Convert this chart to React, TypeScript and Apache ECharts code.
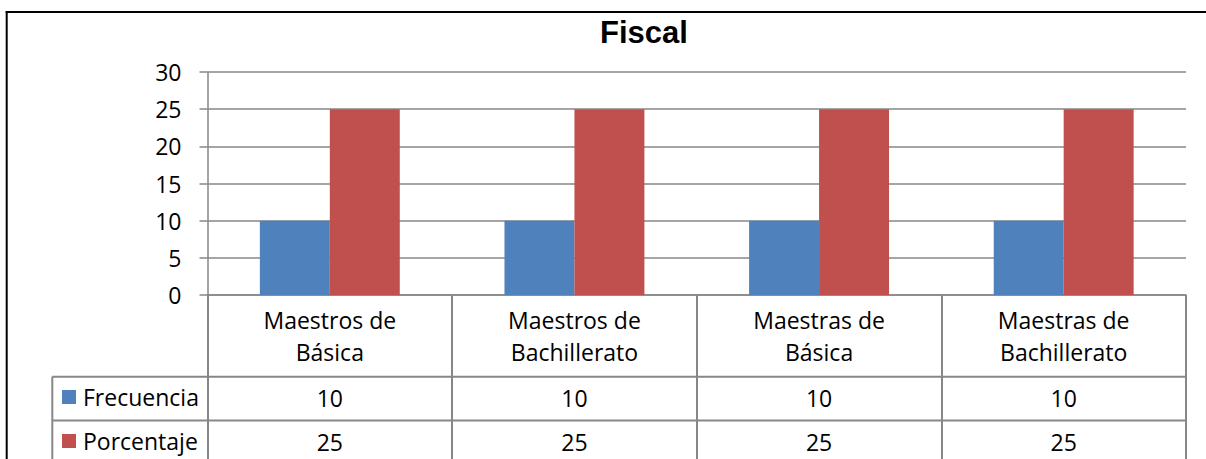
import { useEffect, useRef } from "react";
import * as echarts from "echarts";

const title = "Fiscal";
const categories = [
  "Maestros de Básica",
  "Maestros de Bachillerato",
  "Maestras de Básica",
  "Maestras de Bachillerato",
];
const seriesNames = ["Frecuencia", "Porcentaje"];
const frecuencia = [10, 10, 10, 10];
const porcentaje = [25, 25, 25, 25];
const yMin = 0;
const yMax = 30;
const yInterval = 5;

const W = 1206;
const H = 459;
const FONT = "'Open Sans', sans-serif";
const GRID = { left: 207.5, right: 20, top: 72, bottom: 164 };

export default function App() {
  const ref = useRef<HTMLDivElement>(null);
  useEffect(() => {
    const chart = echarts.init(ref.current!, null, { renderer: "svg" });
    const gray = "#878787";
    const plotRight = W - GRID.right;
    const labelStyle = { fontFamily: FONT, fontSize: 23, color: "#000" };
    const row1 = 376.7;
    const row2 = 420.5;
    const tableLeft = 52.3;
    chart.setOption({
      animation: false,
      title: {
        text: title,
        left: 600,
        top: 17,
        padding: 0,
        textStyle: {
          fontFamily: "'Liberation Sans', Arial, sans-serif",
          fontWeight: "bold",
          fontSize: 31,
          color: "#000",
        },
      },
      legend: {
        data: seriesNames,
        orient: "vertical",
        left: 62,
        top: 382,
        padding: 0,
        itemWidth: 14,
        itemHeight: 14,
        itemGap: 14,
        icon: "rect",
        selectedMode: false,
        textStyle: { ...labelStyle, lineHeight: 30, padding: [0, 0, 0, 2] },
      },
      grid: { ...GRID, containLabel: false, outerBoundsMode: "none" },
      xAxis: [
        {
          type: "category",
          data: categories,
          axisLine: { show: true, lineStyle: { color: gray, width: 1.5 } },
          axisTick: {
            show: true,
            length: 175,
            alignWithLabel: false,
            lineStyle: { color: gray, width: 2 },
          },
          axisLabel: {
            ...labelStyle,
            interval: 0,
            margin: 9,
            lineHeight: 32,
            formatter: (v: string) => v.replace(" de ", " de\n"),
          },
          splitLine: { show: false },
        },
        {
          type: "category",
          data: categories,
          position: "bottom",
          offset: 103,
          axisLine: { show: false },
          axisTick: { show: false },
          splitLine: { show: false },
          axisLabel: {
            ...labelStyle,
            interval: 0,
            margin: 0,
            verticalAlign: "middle",
            formatter: (_v: string, i: number) => String(frecuencia[i]),
          },
        },
        {
          type: "category",
          data: categories,
          position: "bottom",
          offset: 147,
          axisLine: { show: false },
          axisTick: { show: false },
          splitLine: { show: false },
          axisLabel: {
            ...labelStyle,
            interval: 0,
            margin: 0,
            verticalAlign: "middle",
            formatter: (_v: string, i: number) => String(porcentaje[i]),
          },
        },
      ],
      yAxis: {
        type: "value",
        min: yMin,
        max: yMax,
        interval: yInterval,
        axisLine: { show: true, lineStyle: { color: gray, width: 1.5 } },
        axisTick: { show: true, length: 8, lineStyle: { color: gray, width: 1.5 } },
        splitLine: { show: true, lineStyle: { color: gray, width: 1.5 } },
        axisLabel: { ...labelStyle, margin: 26 },
      },
      series: [
        {
          name: seriesNames[0],
          type: "bar",
          xAxisIndex: 0,
          data: frecuencia,
          barGap: "0%",
          barCategoryGap: "42.8%",
          itemStyle: { color: "#4F81BD" },
        },
        {
          name: seriesNames[1],
          type: "bar",
          xAxisIndex: 0,
          data: porcentaje,
          barGap: "0%",
          barCategoryGap: "42.8%",
          itemStyle: { color: "#C0504D" },
        },
      ],
      graphic: [
        {
          type: "rect",
          silent: true,
          shape: { x: 5.7, y: 11, width: W, height: 2 },
          style: { fill: "#000" },
        },
        {
          type: "rect",
          silent: true,
          shape: { x: 5.7, y: 11, width: 2, height: H - 11 },
          style: { fill: "#000" },
        },
        {
          type: "line",
          silent: true,
          shape: { x1: tableLeft, y1: row1, x2: plotRight, y2: row1 },
          style: { stroke: gray, lineWidth: 2 },
        },
        {
          type: "line",
          silent: true,
          shape: { x1: tableLeft, y1: row2, x2: plotRight, y2: row2 },
          style: { stroke: gray, lineWidth: 2 },
        },
        {
          type: "line",
          silent: true,
          shape: { x1: tableLeft, y1: row1, x2: tableLeft, y2: H },
          style: { stroke: gray, lineWidth: 2 },
        },
      ],
    });
    return () => chart.dispose();
  }, []);
  return (
    <div
      ref={ref}
      style={{ position: "absolute", left: 0, top: 0, width: W, height: H, overflow: "hidden" }}
    />
  );
}
